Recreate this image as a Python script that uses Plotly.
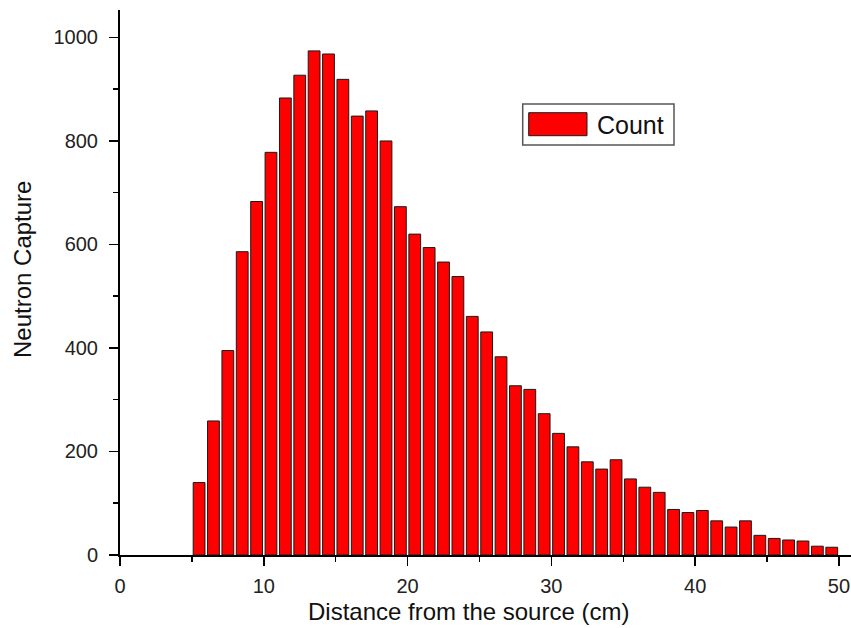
import plotly.graph_objects as go

# Bin centres (cm) and neutron-capture counts
distance_cm = [5.5, 6.5, 7.5, 8.5, 9.5, 10.5, 11.5, 12.5, 13.5, 14.5,
               15.5, 16.5, 17.5, 18.5, 19.5, 20.5, 21.5, 22.5, 23.5, 24.5,
               25.5, 26.5, 27.5, 28.5, 29.5, 30.5, 31.5, 32.5, 33.5, 34.5,
               35.5, 36.5, 37.5, 38.5, 39.5, 40.5, 41.5, 42.5, 43.5, 44.5,
               45.5, 46.5, 47.5, 48.5, 49.5]
counts = [140, 259, 395, 586, 683, 778, 883, 927, 974, 968,
          919, 848, 858, 800, 673, 620, 594, 566, 538, 461,
          431, 383, 327, 320, 273, 235, 209, 180, 166, 184,
          147, 131, 121, 88, 82, 86, 66, 54, 66, 38,
          32, 29, 27, 17, 15]

x_ticks = [0, 10, 20, 30, 40, 50]
y_ticks = [0, 200, 400, 600, 800, 1000]
series_name = "Count"

FONT = "Liberation Sans, Arial, Helvetica, sans-serif"

fig = go.Figure()
fig.add_trace(go.Bar(
    x=distance_cm, y=counts, name=series_name, width=0.82,
    marker=dict(color="#FF0000", line=dict(color="#1a1a1a", width=1)),
    showlegend=False,
))

axis_common = dict(
    showline=True, linecolor="black", linewidth=2,
    ticks="outside", ticklen=9, tickwidth=1.5, tickcolor="black",
    showgrid=False, zeroline=False,
    tickfont=dict(family=FONT, size=20, color="#222"),
)

fig.update_xaxes(range=[0, 50.84], tickvals=x_ticks,
                 ticktext=[str(v) for v in x_ticks], ticklabelstandoff=3,
                 minor=dict(dtick=5, tick0=0, ticks="outside", ticklen=5,
                            tickwidth=1.5, tickcolor="black"),
                 **axis_common)
fig.update_yaxes(range=[0, 1053], tickvals=y_ticks,
                 ticktext=[str(v) for v in y_ticks], ticklabelstandoff=7,
                 minor=dict(dtick=100, tick0=0, ticks="outside", ticklen=5,
                            tickwidth=1.5, tickcolor="black"),
                 **axis_common)

L, T, W, H = 120, 10, 851, 628
B = 73
pw, ph = W - L, H - T - B


def px(xp):
    return (xp - L) / pw


def py(yp):
    return (H - B - yp) / ph


shapes = [
    dict(type="rect", xref="paper", yref="paper",
         x0=px(522.7), x1=px(674), y0=py(145), y1=py(104),
         line=dict(color="#555", width=1.5), fillcolor="white"),
    dict(type="rect", xref="paper", yref="paper",
         x0=px(528.7), x1=px(587), y0=py(135.7), y1=py(112.7),
         line=dict(color="#1a1a1a", width=1), fillcolor="#FF0000"),
]

annotations = [
    dict(text=series_name, xref="paper", yref="paper", x=px(595), y=py(125),
         xanchor="left", yanchor="middle", showarrow=False,
         font=dict(family=FONT, size=25, color="#111")),
    dict(text="Distance from the source (cm)", xref="paper", yref="paper",
         x=px(468), y=py(611), xanchor="center", yanchor="middle",
         showarrow=False, font=dict(family=FONT, size=24, color="#111")),
    dict(text="Neutron Capture", xref="paper", yref="paper",
         x=px(22), y=py(270), xanchor="center", yanchor="middle",
         textangle=-90, showarrow=False,
         font=dict(family=FONT, size=24, color="#111")),
]

fig.update_layout(
    width=W, height=H,
    margin=dict(l=L, r=0, t=T, b=B, pad=0),
    paper_bgcolor="white", plot_bgcolor="white",
    bargap=0, shapes=shapes, annotations=annotations,
    font=dict(family=FONT),
)

fig.write_html(
    "out.html",
    config={"displayModeBar": False, "staticPlot": True},
    post_script="document.body.style.margin='0';document.body.style.overflow='hidden';",
)
